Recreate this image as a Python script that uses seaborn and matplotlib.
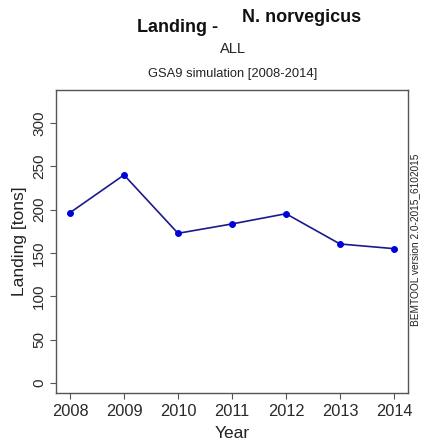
import matplotlib
matplotlib.use("Agg")
import matplotlib.pyplot as plt
import seaborn as sns
import pandas as pd

# Landing series for N. norvegicus, GSA9 simulation
years = [2008, 2009, 2010, 2011, 2012, 2013, 2014]
landing = [196.5, 240.0, 172.7, 183.5, 195.3, 160.4, 155.0]
y_ticks = [0, 50, 100, 150, 200, 250, 300]

sns.set_theme(style="white")
plt.rcParams["font.family"] = ["Liberation Sans", "DejaVu Sans"]

W, H = 423, 441
fig = plt.figure(figsize=(W / 100, H / 100), dpi=100)
ax = fig.add_axes([56 / W, 1 - 393 / H, (408 - 56) / W, (393 - 90) / H])

df = pd.DataFrame({"Year": years, "Landing": landing})
sns.lineplot(data=df, x="Year", y="Landing", ax=ax, color="#1a1a8c",
             linewidth=1.2, marker="o", markersize=4.2,
             markerfacecolor="#0000dd", markeredgecolor="#0000dd")

ax.set_xlim(2007.74, 2014.26)
ax.set_ylim(-11.5, 338)
ax.set_xticks(years)
ax.set_xticklabels([str(y) for y in years])
ax.set_yticks(y_ticks)
ax.set_yticklabels([str(v) for v in y_ticks], rotation=90, va="center")

for s in ax.spines.values():
    s.set_color("#555555")
    s.set_linewidth(1.0)
ax.tick_params(axis="both", which="both", direction="out", length=4,
               width=0.8, color="#555555", labelcolor="#2a2a2a",
               left=True, bottom=True)
ax.tick_params(axis="x", labelsize=11.8, pad=4)
ax.tick_params(axis="y", labelsize=11, pad=3)

ax.set_xlabel("Year", fontsize=12.5, color="#222222", labelpad=5)
ax.set_ylabel("Landing [tons]", fontsize=12.5, color="#222222", labelpad=4)

# Title block
fig.text(137 / W, 1 - 32 / H, "Landing -", fontsize=13, fontweight="bold",
         ha="left", va="baseline", color="#111111")
fig.text(242 / W, 1 - 22 / H, "N. norvegicus", fontsize=13, fontweight="bold",
         ha="left", va="baseline", color="#111111")
fig.text(220 / W, 1 - 53 / H, "ALL", fontsize=10.5, ha="left",
         va="baseline", color="#222222")
fig.text(148 / W, 1 - 77 / H, "GSA9 simulation [2008-2014]", fontsize=9.3,
         ha="left", va="baseline", color="#222222")

# Version stamp on the right margin
fig.text(415 / W, 1 - 240 / H, "BEMTOOL version 2.0-2015_6102015",
         fontsize=7.3, rotation=90, ha="center", va="center", color="#222222")

fig.savefig("out.png", dpi=100)
